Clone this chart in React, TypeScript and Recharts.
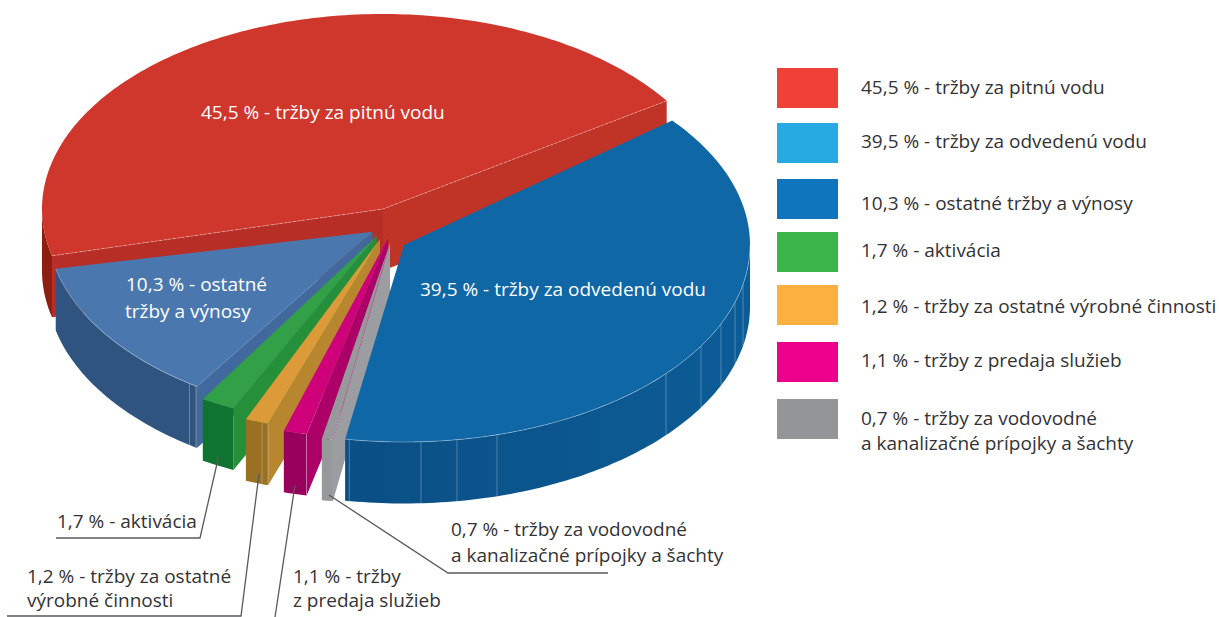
import React from 'react';
import { PieChart, Pie, Legend } from 'recharts';

const sliceNames = ['pitna', 'ostatne', 'aktivacia', 'vyrobne', 'sluzby', 'pripojky', 'odvedena'];
const sliceValues = [45.5, 10.3, 1.7, 1.2, 1.1, 0.7, 39.5];
const legendLabels = [
  ['45,5 % - tržby za pitnú vodu'],
  ['39,5 % - tržby za odvedenú vodu'],
  ['10,3 % - ostatné tržby a výnosy'],
  ['1,7 % - aktivácia'],
  ['1,2 % - tržby za ostatné výrobné činnosti'],
  ['1,1 % - tržby z predaja služieb'],
  ['0,7 % - tržby za vodovodné', 'a kanalizačné prípojky a šachty'],
];
const legendColors = ['#EF4136', '#27AAE1', '#0F75BC', '#39B54A', '#FBB040', '#EC008C', '#939598'];
const legendTops = [68, 123, 179, 232, 285, 342, 399];
const legendBaselines = [[93.5], [148], [210], [257], [313], [367], [425, 450]];

const FONT = '"Open Sans", "Noto Sans", sans-serif';
const DEPTH = 61.5;

type Look = {
  apex: [number, number]; ex: number; ey: number; rx: number; ry: number;
  turn: number; stretch: number; top: string; wall: string;
  start?: string; end?: string; edges?: string; facets?: number[]; facetColor?: string; rim?: boolean;
};

const looks: Record<string, Look> = {
  pitna: { apex: [383, 209], ex: 383, ey: 209, rx: 341, ry: 195, turn: 0, stretch: 0.978, top: '#cf362c', wall: '#8f1d12', start: '#c03327', end: '#b72e26', edges: 'dash' },
  ostatne: { apex: [372.7, 231.7], ex: 388, ey: 225, rx: 341, ry: 195, turn: -4.5, stretch: 1.157, top: '#4a78ae', wall: '#2f5480', end: '#41699d', facets: [189.5, 196], rim: true },
  aktivacia: { apex: [376.7, 236], ex: 383, ey: 225, rx: 354, ry: 202.4, turn: 4.82, stretch: 0.915, top: '#31a047', wall: '#0f7430', end: '#259039' },
  vyrobne: { apex: [380, 239], ex: 383, ey: 225, rx: 366, ry: 209.4, turn: 7.3, stretch: 0.856, top: '#dc9a38', wall: '#9a7022', end: '#b8862f', facets: [262, 268] },
  sluzby: { apex: [388, 238], ex: 383, ey: 225, rx: 373.4, ry: 213.5, turn: 9.58, stretch: 0.909, top: '#ce007a', wall: '#99005e', end: '#ac0068', facets: [306.5] },
  pripojky: { apex: [390, 243], ex: 383, ey: 225, rx: 378.5, ry: 216.5, turn: 11.72, stretch: 0.675, top: '#98999c', wall: '#97989b', end: '#9c9da0', edges: 'pink' },
  odvedena: { apex: [404, 245], ex: 404, ey: 245, rx: 346, ry: 197, turn: 8.7, stretch: 0.9775, top: '#0f67a6', wall: 'url(#blueWall)', facets: [349.3, 421, 457, 497, 666, 701, 721, 735, 743], rim: true },
};

const rad = (d: number) => (d * Math.PI) / 180;

function Slice3D(props: any) {
  const look = looks[props.name ?? props.payload?.name];
  if (!look) return null;
  const { apex, ex, ey, rx, ry } = look;
  const a0 = props.startAngle + look.turn;
  const a1 = a0 + (props.endAngle - props.startAngle) * look.stretch;
  const pt = (d: number): [number, number] => [ex + rx * Math.cos(rad(d)), ey - ry * Math.sin(rad(d))];
  const arc = (from: number, to: number) => {
    const out: [number, number][] = [];
    const n = Math.max(2, Math.ceil(Math.abs(to - from)));
    for (let i = 0; i <= n; i++) out.push(pt(from + ((to - from) * i) / n));
    return out;
  };
  const toD = (p: [number, number][]) => 'M' + p.map((q) => q[0].toFixed(2) + ' ' + q[1].toFixed(2)).join('L') + 'Z';
  const topPath = toD([apex, ...arc(a0, a1)]);
  const vis0 = Math.max(a0, 180);
  const vis1 = Math.min(a1, 360);
  const front = vis1 > vis0 ? arc(vis0, vis1) : [];
  const wallPath = front.length
    ? toD([...front, ...front.slice().reverse().map((q) => [q[0], q[1] + DEPTH] as [number, number])])
    : '';
  const cut = (corner: [number, number]) =>
    toD([apex, corner, [corner[0], corner[1] + DEPTH], [apex[0], apex[1] + DEPTH]]);
  const pStart = pt(a0);
  const pEnd = pt(a1);
  const facetLines = (look.facets ?? []).map((x) => {
    const c = (x - ex) / rx;
    const y = ey + ry * Math.sqrt(Math.max(0, 1 - c * c));
    return <line key={x} x1={x} x2={x} y1={y} y2={y + DEPTH} stroke="#ffffff" strokeOpacity={0.35} strokeWidth={0.8} />;
  });
  return (
    <g>
      {look.start && <path d={cut(pStart)} fill={look.start} />}
      {look.end && <path d={cut(pEnd)} fill={look.end} />}
      {wallPath && <path d={wallPath} fill={look.wall} />}
      {facetLines}
      <path d={topPath} fill={look.top} />
      {look.rim && front.length > 0 && (
        <polyline points={front.map((q) => q.join(',')).join(' ')} fill="none" stroke="#ffffff" strokeOpacity={0.4} strokeWidth={0.8} />
      )}
      {look.edges === 'dash' && (
        <polyline points={[pStart, apex, pEnd].map((q) => q.join(',')).join(' ')} fill="none" stroke="#ffffff" strokeOpacity={0.45} strokeWidth={0.8} strokeDasharray="3 1.5" />
      )}
      {look.edges === 'pink' && (
        <line x1={apex[0]} y1={apex[1]} x2={pEnd[0]} y2={pEnd[1]} stroke="#c4508f" strokeWidth={0.8} strokeDasharray="2 1.5" />
      )}
    </g>
  );
}

const pieData = sliceNames.map((name, i) => ({ name, value: sliceValues[i] }));

function T({ x, y, c = '#333335', children }: any) {
  return <text x={x} y={y} fill={c} fontFamily={FONT} fontSize={19}>{children}</text>;
}

function Annotations() {
  const s = { fill: 'none', stroke: '#58595b', strokeWidth: 1.3 };
  return (
    <g>
      <T x={201} y={119} c="#fff">45,5 % - tržby za pitnú vodu</T>
      <T x={420} y={296} c="#fff">39,5 % - tržby za odvedenú vodu</T>
      <T x={126} y={291} c="#fff">10,3 % - ostatné</T>
      <T x={125} y={318} c="#fff">tržby a výnosy</T>
      <polyline {...s} points="56,538 200,538 218.5,457" />
      <polyline {...s} points="7,616 241,616 259,474" />
      <polyline {...s} points="295,485 275,617" />
      <polyline {...s} points="329,495 448,573 608,573" />
      <T x={57} y={528}>1,7 % - aktivácia</T>
      <T x={27} y={583}>1,2 % - tržby za ostatné</T>
      <T x={27} y={607}>výrobné činnosti</T>
      <T x={293} y={583}>1,1 % - tržby</T>
      <T x={293} y={607}>z predaja služieb</T>
      <T x={451} y={536}>0,7 % - tržby za vodovodné</T>
      <T x={451} y={562}>a kanalizačné prípojky a šachty</T>
    </g>
  );
}

function LegendBlock() {
  return (
    <svg width={1219} height={617} style={{ display: 'block' }}>
      {legendLabels.map((lines, i) => (
        <g key={i}>
          <rect x={777} y={legendTops[i]} width={61} height={40} fill={legendColors[i]} />
          {lines.map((line, j) => (
            <T key={j} x={861} y={legendBaselines[i][j]}>{line}</T>
          ))}
        </g>
      ))}
      <Annotations />
    </svg>
  );
}

export default function App() {
  return (
    <div style={{ position: 'absolute', left: 0, top: 0, width: 1219, height: 617, overflow: 'hidden', background: '#fff' }}>
      <PieChart width={1219} height={617} margin={{ top: 0, right: 0, bottom: 0, left: 0 }}>
        <defs>
          <linearGradient id="blueWall" x1="0" x2="1" y1="0" y2="0">
            <stop offset="0" stopColor="#0a4f85" />
            <stop offset="1" stopColor="#0c5c97" />
          </linearGradient>
        </defs>
        <Pie
          data={pieData}
          dataKey="value"
          nameKey="name"
          cx={383}
          cy={209}
          outerRadius={341}
          startAngle={33.7}
          endAngle={393.7}
          stroke="none"
          isAnimationActive={false}
          shape={Slice3D}
        />
        <Legend
          content={() => <LegendBlock />}
          wrapperStyle={{ position: 'absolute', left: 0, top: 0, width: 1219, height: 617, pointerEvents: 'none' }}
        />
      </PieChart>
    </div>
  );
}
